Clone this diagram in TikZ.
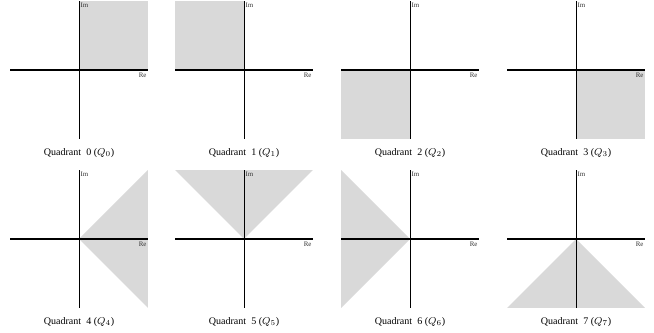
\documentclass[tikz,border=0pt]{standalone}
\usepackage{fontspec}
\setmainfont{Liberation Serif}
\usetikzlibrary{positioning}

\tikzset{
  region/.style={fill=black!15},
  reaxis/.style={line width=0.9pt},
  imaxis/.style={line width=0.65pt},
  axlabel/.style={font=\fontsize{5.5}{6}\selectfont, inner sep=1pt, text=black!80},
  caption/.style={font=\footnotesize, inner sep=0pt}
}

\begin{document}
\begin{tikzpicture}
  \useasboundingbox (0,0) rectangle (18.312,9.324);
  % origins of the eight planes
  \foreach \k/\x/\y in {0/2.212/7.364, 1/6.832/7.364, 2/11.48/7.364, 3/16.128/7.364,
                         4/2.212/2.632, 5/6.832/2.632, 6/11.48/2.632, 7/16.128/2.632}
    \coordinate (o\k) at (\x,\y);
  % shaded regions
  \fill[region] (o0) rectangle ++(1.93,1.93);
  \fill[region] (o1) rectangle ++(-1.93,1.93);
  \fill[region] (o2) rectangle ++(-1.93,-1.93);
  \fill[region] (o3) rectangle ++(1.93,-1.93);
  \fill[region] (o4) -- ++(1.93,1.93) -- ++(0,-3.86) -- cycle;
  \fill[region] (o5) -- ++(-1.93,1.93) -- ++(3.86,0) -- cycle;
  \fill[region] (o6) -- ++(-1.93,1.93) -- ++(0,-3.86) -- cycle;
  \fill[region] (o7) -- ++(-1.93,-1.93) -- ++(3.86,0) -- cycle;
  % axes, labels and captions
  \foreach \k in {0,...,7} {
    \coordinate (w\k) at ([xshift=-1.93cm]o\k);
    \coordinate (e\k) at ([xshift=1.93cm]o\k);
    \coordinate (n\k) at ([yshift=1.93cm]o\k);
    \coordinate (s\k) at ([yshift=-1.93cm]o\k);
    \draw[reaxis] (w\k) -- (e\k);
    \draw[imaxis] (n\k) -- (s\k);
    \node[axlabel, anchor=north west] (im\k) at (n\k) {Im};
    \node[axlabel, anchor=north east, yshift=-0.04cm] (re\k) at (e\k) {Re};
    \node[caption, below=0.25cm of s\k] (q\k) {Quadrant~ \k\ ($Q_{\k}$)};
  }
\end{tikzpicture}
\end{document}
